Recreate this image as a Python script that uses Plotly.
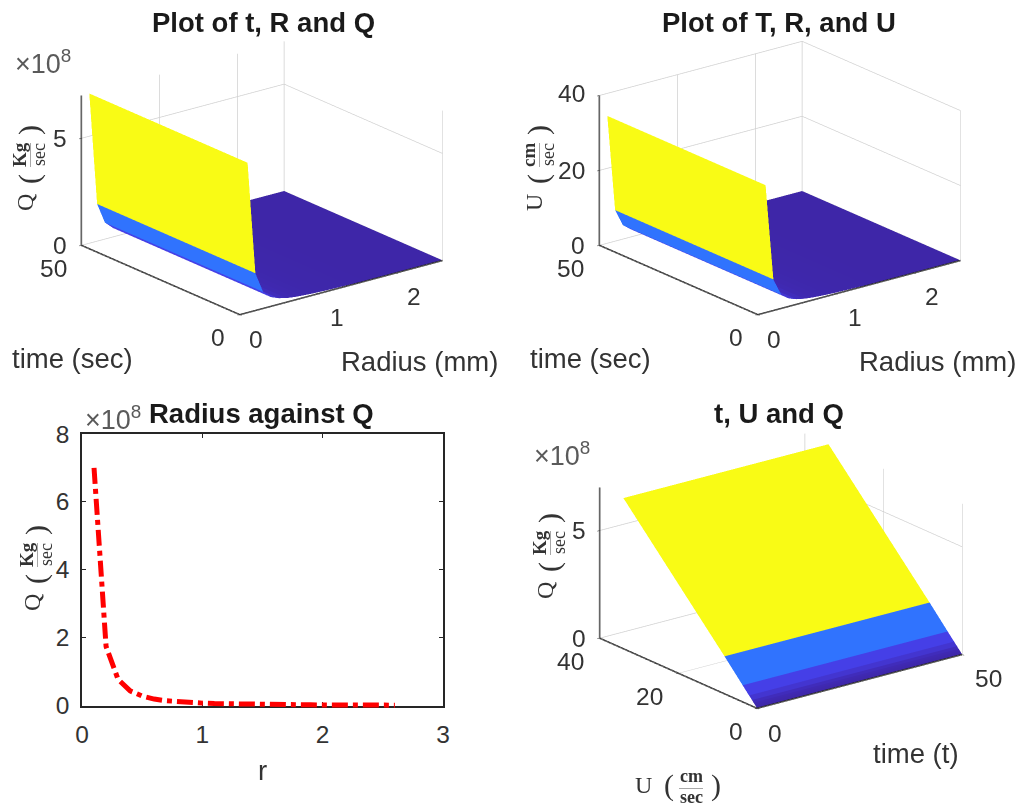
import plotly.graph_objects as go
import math

radius = [0.1,0.2,0.3,0.4,0.5,0.6,0.7,0.8,0.9,1.0,1.1,1.2,1.3,1.4,1.5,1.6,1.7,1.8,1.9,2.0,2.1,2.2,2.3,2.4,2.5,2.6]
q_e8 = [7.0,1.74,0.77,0.43,0.28,0.19,0.14,0.11,0.086,0.07,0.057,0.048,0.041,0.035,0.031,0.027,0.024,0.021,0.019,0.017,0.016,0.014,0.013,0.012,0.011,0.010]
velocity = [34.0,8.3,3.7,2.08,1.33,0.93,0.68,0.52,0.41,0.33,0.275,0.23,0.2,0.17,0.15,0.13,0.115,0.10,0.092,0.083,0.076,0.069,0.063,0.058,0.053,0.049]
time_ends = [0, 50]
Q = [v * 1e8 for v in q_e8]
parula = [[0,"#3E26A8"],[0.03,"#3F2AB5"],[0.06,"#4335D0"],[0.11,"#4540E8"],[0.25,"#2F74FF"],[1,"#F9FB15"]]

W, H = 1022, 806
SCENE_W, SCENE_H = 380, 350
EYE = 3.0
TXT = "#333333"
LINE = "#262626"
FS = 24.5
LS = 27.5
TS = 27.5
FONT = "Liberation Sans"
SERIF = "Liberation Serif"
QMAX = 7.0e8

def cam(phi_deg, theta_deg=20):
    p, t = math.radians(phi_deg), math.radians(theta_deg)
    return dict(eye=dict(x=-EYE*math.sin(p)*math.cos(t), y=-EYE*math.cos(p)*math.cos(t), z=EYE*math.sin(t)),
                up=dict(x=0, y=0, z=1), center=dict(x=0, y=0, z=0), projection=dict(type="orthographic"))

def dom(cx, cy):
    return dict(x=[(cx-SCENE_W/2)/W, (cx+SCENE_W/2)/W], y=[1-(cy+SCENE_H/2)/H, 1-(cy-SCENE_H/2)/H])

def ax3(rng, ticks):
    return dict(range=rng, tickvals=ticks, showticklabels=False, title=dict(text=""), showgrid=True,
                gridcolor="#d0d0d0", gridwidth=1.5, showline=False, zeroline=False, showbackground=False,
                ticks="outside", ticklen=3, tickcolor=LINE, tickwidth=1, showspikes=False, autorange=False)

def mesh(xv, yv, zv, scene, cval):
    # one flat-coloured quad per strip between successive radii
    X, Y, Z, I, J, K, C = [], [], [], [], [], [], []
    n = len(zv)
    for s in range(n):
        for e in (0, 1):
            X.append(xv(s, e)); Y.append(yv(s, e)); Z.append(zv[s])
    for s in range(n-1):
        a, b, c, d = 2*s, 2*s+1, 2*s+2, 2*s+3
        I += [a, b]; J += [b, d]; K += [c, c]; C += [cval[s], cval[s]]
    return go.Mesh3d(x=X, y=Y, z=Z, i=I, j=J, k=K, intensity=C, intensitymode="cell", colorscale=parula,
                     cmin=min(cval), cmax=max(cval), showscale=False, flatshading=True, hoverinfo="skip",
                     lighting=dict(ambient=1, diffuse=0, specular=0, fresnel=0, roughness=1), scene=scene)

def axes_lines(x0, x1, y0, y1, z0, z1, scene):
    xs = [x1, x0, x0, x0, None]
    ys = [y0, y0, y1, y1, None]
    zs = [z0, z0, z0, z1, None]
    return go.Scatter3d(x=xs, y=ys, z=zs, mode="lines", line=dict(color=LINE, width=3), hoverinfo="skip", showlegend=False, scene=scene)

fig = go.Figure()
fig.add_trace(mesh(lambda s, e: radius[s], lambda s, e: time_ends[e], Q, "scene", q_e8))
fig.add_trace(axes_lines(0, 2.6, 0, 50, 0, QMAX, "scene"))
fig.add_trace(mesh(lambda s, e: radius[s], lambda s, e: time_ends[e], velocity, "scene2", q_e8))
fig.add_trace(axes_lines(0, 2.6, 0, 50, 0, 40, "scene2"))
fig.add_trace(mesh(lambda s, e: time_ends[e], lambda s, e: velocity[s], Q, "scene4", q_e8))
fig.add_trace(axes_lines(0, 50, 0, 40, 0, QMAX, "scene4"))
# visible box and ticks live on x/y; the curve sits on a hidden pair reaching a few pixels below the box, so the line is not cut at y=0
fig.add_trace(go.Scatter(x=radius[:1], y=Q[:1], mode="lines", hoverinfo="skip", showlegend=False, xaxis="x", yaxis="y"))
fig.add_trace(go.Scatter(x=radius, y=Q, mode="lines", line=dict(color="#ff0000", width=5, dash="16px,5px,5px,5px"), hoverinfo="skip", showlegend=False, xaxis="x2", yaxis="y2"))

def sc(box, phi):
    return dict(aspectmode="manual", aspectratio=dict(x=box, y=box, z=0.62*box), bgcolor="white", camera=cam(phi))

def tick(x, y, z, text, dx, dy):
    return dict(x=x, y=y, z=z, text=text, showarrow=False, xshift=dx, yshift=-dy, font=dict(family=FONT, size=FS, color=TXT))

s1_ann = [tick(0,50,5e8,"5",-21,0), tick(0,50,0,"0",-21,0), tick(0,50,0,"50",-28,23), tick(0,0,0,"0",-22,23),
          tick(0,0,0,"0",16,25), tick(1,0,0,"1",19,24), tick(2,0,0,"2",18,23)]
s2_ann = [tick(0,50,40,"40",-28,-2), tick(0,50,20,"20",-28,0), tick(0,50,0,"0",-21,0), tick(0,50,0,"50",-29,23), tick(0,0,0,"0",-22,23),
          tick(0,0,0,"0",16,25), tick(1,0,0,"1",19,24), tick(2,0,0,"2",18,23)]
s4_ann = [tick(0,40,5e8,"5",-21,0), tick(0,40,0,"0",-21,0), tick(0,40,0,"40",-29,23), tick(0,20,0,"20",-29,23), tick(0,0,0,"0",-21,23),
          tick(0,0,0,"0",18,25), tick(50,0,0,"50",26,24)]

layout = dict(width=W, height=H, margin=dict(l=0, r=0, t=0, b=0, autoexpand=False), paper_bgcolor="white", plot_bgcolor="rgba(0,0,0,0)", showlegend=False)
layout["scene"] = dict(domain=dom(262, 178), xaxis=ax3([0,2.6],[0,1,2]), yaxis=ax3([0,50],[0,50]), zaxis=ax3([0,QMAX],[0,5e8]), annotations=s1_ann, **sc(1.47, 38))
layout["scene2"] = dict(domain=dom(780, 178), xaxis=ax3([0,2.6],[0,1,2]), yaxis=ax3([0,50],[0,50]), zaxis=ax3([0,40],[0,20,40]), annotations=s2_ann, **sc(1.47, 38))
layout["scene4"] = dict(domain=dom(781, 571), xaxis=ax3([0,50],[0,50]), yaxis=ax3([0,40],[0,20,40]), zaxis=ax3([0,QMAX],[0,5e8]), annotations=s4_ann, **sc(1.478, 37.5))
BOTTOM, TOP, PAD = 705.5, 434.0, 6.0
layout["xaxis"] = dict(domain=[82/W, 443/W], range=[0,3], tickvals=[0,1,2,3], ticks="inside", ticklen=4, tickcolor=LINE, ticklabelstandoff=6, layer="below traces",
                       showline=True, linecolor=LINE, linewidth=1.5, mirror="ticks", showgrid=False, zeroline=False, tickfont=dict(family=FONT, size=FS, color=TXT), anchor="y")
layout["yaxis"] = dict(domain=[1-BOTTOM/H, 1-TOP/H], range=[0,8e8], tickvals=[0,2e8,4e8,6e8,8e8], ticktext=["0","2","4","6","8"], ticks="inside", ticklen=4, tickcolor=LINE, ticklabelstandoff=6, layer="below traces",
                       showline=True, linecolor=LINE, linewidth=1.5, mirror="ticks", showgrid=False, zeroline=False, tickfont=dict(family=FONT, size=FS, color=TXT), anchor="x")
layout["xaxis2"] = dict(domain=[82/W, 443/W], range=[0,3], visible=False, anchor="y2")
layout["yaxis2"] = dict(domain=[1-(BOTTOM+PAD)/H, 1-TOP/H], range=[-PAD*8e8/(BOTTOM-TOP),8e8], visible=False, anchor="x2")

ann = []
def text(x, y, s, size=FS, bold=False, angle=0, family=FONT, color=TXT):
    ann.append(dict(x=x/W, y=1-y/H, xref="paper", yref="paper", text=f"<b>{s}</b>" if bold else s, showarrow=False, xanchor="center", yanchor="middle",
                    textangle=angle, font=dict(family=family, size=size, color=color)))

def frac_label(x, y, head, num, den):
    text(x-4, y+33, head, 24, family=SERIF, angle=-90)
    text(x, y+9, "(", 30, family=SERIF, angle=-90)
    text(x-10, y-15, num, 19, bold=True, family=SERIF, angle=-90)
    text(x+10, y-15, den, 18, family=SERIF, angle=-90)
    text(x, y-15, "———", 8, family=SERIF, angle=-90)
    text(x, y-40, ")", 30, family=SERIF, angle=-90)

def frac_label_h(x, y, head, num, den):
    text(x-32, y, head, 24, family=SERIF)
    text(x-6, y, "(", 30, family=SERIF)
    text(x+16, y-9, num, 18, bold=True, family=SERIF)
    text(x+16, y+12, den, 18, bold=True, family=SERIF)
    text(x+16, y+2, "———", 8, family=SERIF)
    text(x+41, y, ")", 30, family=SERIF)

TITLE = "#1a1a1a"
text(263, 22, "Plot of t, R and Q", TS, True, color=TITLE)
text(779, 22, "Plot of T, R, and U", TS, True, color=TITLE)
text(261, 414, "Radius against Q", TS, True, color=TITLE)
text(779, 414, "t, U and Q", TS, True, color=TITLE)
mult = "×10<sup>8</sup>"
text(43, 62, mult, 27, color="#5a5a5a")
text(113, 418, mult, 27, color="#5a5a5a")
text(562, 454, mult, 27, color="#5a5a5a")
text(72, 358, "time (sec)", LS)
text(590, 358, "time (sec)", LS)
text(419, 361, "Radius (mm)", LS)
text(937, 361, "Radius (mm)", LS)
text(916, 753, "time (t)", LS)
text(262, 770, "r", LS)
frac_label(29, 170, "Q", "Kg", "sec")
frac_label(538, 170, "U", "cm", "sec")
frac_label(36, 570, "Q", "Kg", "sec")
frac_label(549, 558, "Q", "Kg", "sec")
frac_label_h(675, 785, "U", "cm", "sec")
layout["annotations"] = ann

fig.update_layout(**layout)
fig.write_html("out.html", post_script="document.body.style.margin='0';", config=dict(displayModeBar=False))
